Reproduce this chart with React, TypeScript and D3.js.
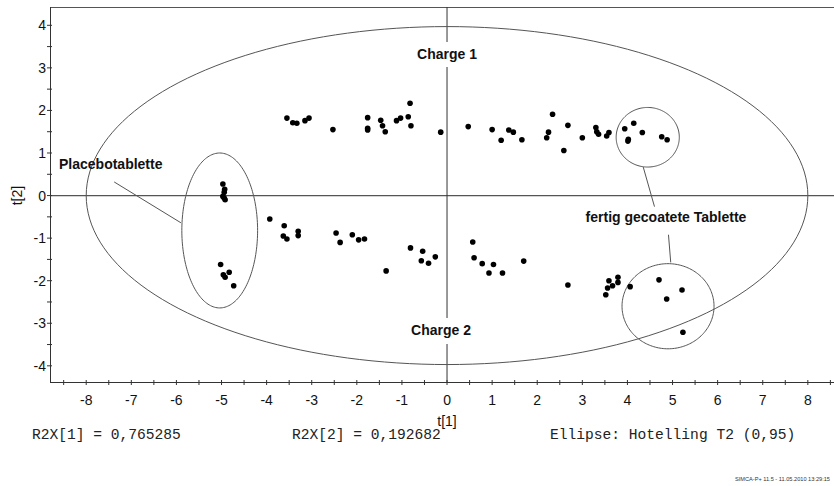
import React from "react";
import * as d3 from "d3";

// ---- data ----
const upperX = [-3.55, -3.42, -3.33, -3.15, -3.06, -2.53, -1.76, -1.76, -1.76, -1.47, -1.43, -1.37, -1.12, -1.03, -0.86, -0.82, -0.80, -0.14, 0.47, 1.00, 1.20, 1.37, 1.47, 1.66, 2.21, 2.25, 2.34, 2.68, 2.59, 3.00, 3.30, 3.32, 3.36, 3.54, 3.59, 3.94, 4.14, 4.02, 4.01, 4.33, 4.76, 4.88];
const upperY = [1.82, 1.71, 1.70, 1.76, 1.82, 1.55, 1.83, 1.58, 1.54, 1.77, 1.64, 1.50, 1.76, 1.82, 1.85, 2.17, 1.64, 1.49, 1.62, 1.55, 1.30, 1.54, 1.49, 1.31, 1.36, 1.49, 1.91, 1.65, 1.06, 1.36, 1.60, 1.50, 1.44, 1.40, 1.48, 1.57, 1.70, 1.32, 1.28, 1.48, 1.38, 1.31];

const placeboX = [-4.97, -4.93, -4.94, -4.97, -4.94, -4.92, -5.02, -4.83, -4.96, -4.92, -4.73];
const placeboY = [0.27, 0.15, 0.08, -0.02, -0.06, -0.10, -1.62, -1.80, -1.86, -1.92, -2.12];

const lowerX = [-3.93, -3.61, -3.63, -3.55, -3.30, -3.30, -2.46, -2.37, -2.10, -1.96, -1.83, -1.35, -0.81, -0.54, -0.57, -0.41, -0.26, 0.57, 0.60, 0.78, 1.03, 0.93, 1.23, 1.70, 2.68, 3.59, 3.79, 3.67, 3.79, 3.56, 3.52, 4.06, 4.70, 5.21, 4.87, 5.23];
const lowerY = [-0.55, -0.71, -0.95, -1.02, -0.84, -0.94, -0.88, -1.10, -0.92, -1.04, -1.02, -1.77, -1.23, -1.31, -1.53, -1.59, -1.44, -1.09, -1.46, -1.60, -1.62, -1.82, -1.82, -1.54, -2.10, -2.00, -1.92, -2.12, -2.04, -2.17, -2.33, -2.14, -1.98, -2.22, -2.43, -3.21];

const xTicks = [-8, -7, -6, -5, -4, -3, -2, -1, 0, 1, 2, 3, 4, 5, 6, 7, 8];
const yTicks = [-4, -3, -2, -1, 0, 1, 2, 3, 4];

// Hotelling T2 ellipse semi-axes
const hotelling = [8, 3.97];

// annotation ellipses: cx, cy, rx, ry
const markEllipses = [
  [-5.04, -0.82, 0.84, 1.82],
  [4.45, 1.37, 0.70, 0.70],
  [4.90, -2.60, 1.02, 1.00],
];
// annotation leader lines: x1, y1, x2, y2
const leaderLines = [
  [-7.38, 0.32, -5.90, -0.64],
  [4.35, 0.67, 4.60, -0.26],
  [4.91, -0.92, 4.96, -1.57],
];

const footerTexts = ["R2X[1] = 0,765285", "R2X[2] = 0,192682", "Ellipse: Hotelling T2 (0,95)"];

export default function App() {
  const W = 834, H = 486;
  const left = 50, right = 834, top = 7, bottom = 382;
  const x = d3.scaleLinear().domain([-8.803, 8.58]).range([left, right]);
  const y = d3.scaleLinear().domain([4.43, -4.38]).range([top, bottom]);

  const minorX = d3.range(-8.5, 8.51, 0.5);
  const minorY = d3.range(-4, 4.01, 0.5);

  const ellipsePath = (cx: number, cy: number, rx: number, ry: number) => {
    const pts = d3.range(0, 361, 2).map((a) => {
      const t = (a * Math.PI) / 180;
      return [x(cx + rx * Math.cos(t)), y(cy + ry * Math.sin(t))] as [number, number];
    });
    return d3.line()(pts) || "";
  };

  const axisCol = "#333";
  const lineCol = "#555";
  const sans = "'Liberation Sans', Arial, sans-serif";

  const dots: [number, number][] = [
    ...upperX.map((v, i) => [v, upperY[i]] as [number, number]),
    ...placeboX.map((v, i) => [v, placeboY[i]] as [number, number]),
    ...lowerX.map((v, i) => [v, lowerY[i]] as [number, number]),
  ];

  return (
    <svg width={W} height={H} style={{ position: "absolute", left: 0, top: 0, background: "#fff" }}>
      <rect x={0} y={0} width={W} height={H} fill="#fff" />
      {/* frame */}
      <line x1={left} x2={right} y1={top + 0.5} y2={top + 0.5} stroke={lineCol} strokeWidth={1.2} />
      <line x1={left + 0.5} x2={left + 0.5} y1={top} y2={bottom} stroke={axisCol} strokeWidth={1} />
      <line x1={left} x2={right} y1={bottom + 0.5} y2={bottom + 0.5} stroke={axisCol} strokeWidth={1} />
      {/* zero lines */}
      <line x1={left} x2={right} y1={y(0)} y2={y(0)} stroke={lineCol} strokeWidth={1.2} />
      <line x1={x(0)} x2={x(0)} y1={top} y2={bottom} stroke={axisCol} strokeWidth={1} />
      {/* ticks */}
      {minorX.map((v) => (
        <line key={"tx" + v} x1={x(v)} x2={x(v)} y1={bottom - 2} y2={bottom + 3} stroke={axisCol} />
      ))}
      {minorY.map((v) => (
        <line key={"ty" + v} x1={left - 3} x2={left + 2} y1={y(v)} y2={y(v)} stroke={axisCol} />
      ))}
      {xTicks.map((v) => (
        <text key={"lx" + v} x={x(v)} y={405} textAnchor="middle" fontFamily={sans} fontSize={14} fill="#111">
          {v}
        </text>
      ))}
      {yTicks.map((v) => (
        <text key={"ly" + v} x={46} y={y(v) + 5} textAnchor="end" fontFamily={sans} fontSize={14} fill="#111">
          {v}
        </text>
      ))}
      <text x={447} y={426} textAnchor="middle" fontFamily={sans} fontSize={14} fill="#111">t[1]</text>
      <text transform={`translate(22,${y(0)}) rotate(-90)`} textAnchor="middle" fontFamily={sans} fontSize={14} fill="#111">t[2]</text>

      {/* Hotelling ellipse */}
      <path d={ellipsePath(0, 0, hotelling[0], hotelling[1])} fill="none" stroke={lineCol} strokeWidth={1} />
      {markEllipses.map((e, i) => (
        <path key={"me" + i} d={ellipsePath(e[0], e[1], e[2], e[3])} fill="none" stroke={lineCol} strokeWidth={1} />
      ))}
      {leaderLines.map((l, i) => (
        <line key={"ll" + i} x1={x(l[0])} y1={y(l[1])} x2={x(l[2])} y2={y(l[3])} stroke={lineCol} strokeWidth={1} />
      ))}

      {/* points */}
      {dots.map((d, i) => (
        <circle key={"p" + i} cx={x(d[0])} cy={y(d[1])} r={2.8} fill="#000" />
      ))}

      {/* labels */}
      <rect x={414} y={42} width={66} height={25} fill="#fff" />
      <text x={x(0)} y={59} textAnchor="middle" fontFamily={sans} fontSize={14} fontWeight="bold" fill="#111">Charge 1</text>
      <rect x={408} y={318} width={66} height={26} fill="#fff" />
      <text x={441} y={335} textAnchor="middle" fontFamily={sans} fontSize={14} fontWeight="bold" fill="#111">Charge 2</text>
      <text x={59} y={169} fontFamily={sans} fontSize={14} fontWeight="bold" fill="#111">Placebotablette</text>
      <text x={666} y={222} textAnchor="middle" fontFamily={sans} fontSize={14} fontWeight="bold" fill="#111">fertig gecoatete Tablette</text>

      {/* footer */}
      {footerTexts.map((t, i) => (
        <text key={"f" + i} x={[32, 292, 550][i]} y={439} fontFamily="'Liberation Mono', 'Courier New', monospace" fontSize={14.6} fill="#222" xmlSpace="preserve">
          {t}
        </text>
      ))}
      <text x={735} y={481} fontFamily={sans} fontSize={5.5} fill="#333" textLength={95} lengthAdjust="spacingAndGlyphs">
        SIMCA-P+ 11.5 - 11.05.2010 13:29:15
      </text>
    </svg>
  );
}
